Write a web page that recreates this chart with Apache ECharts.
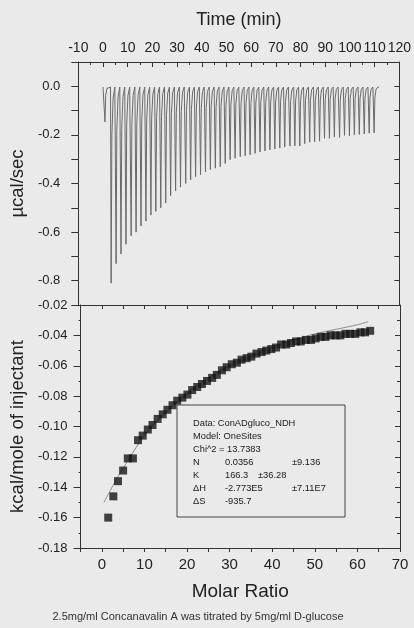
<!DOCTYPE html>
<html>
<head>
<meta charset="utf-8">
<script src="https://cdn.jsdelivr.net/npm/echarts@6/dist/echarts.min.js"></script>
<style>
  html, body { margin: 0; padding: 0; background: #eaeaea; }
  #chart { width: 414px; height: 628px; }
</style>
</head>
<body>
<div id="chart"></div>
<script>
// ---- Raw thermogram (upper panel) ----
// time of each injection peak (min) and its peak power (µcal/sec)
const injectionTimes = [0.8,
  3.3, 5.3, 7.3, 9.3, 11.4, 13.4, 15.4, 17.4, 19.4, 21.4, 23.4, 25.4, 27.4, 29.4, 31.4,
  33.5, 35.5, 37.5, 39.5, 41.5, 43.5, 45.5, 47.5, 49.5, 51.5, 53.5, 55.6, 57.6, 59.6,
  61.6, 63.6, 65.6, 67.6, 69.6, 71.6, 73.6, 75.7, 77.7, 79.7, 81.7, 83.7, 85.7, 87.7,
  89.7, 91.7, 93.7, 95.8, 97.8, 99.8, 101.8, 103.8, 105.8, 107.8, 109.8];
const peakPower = [-0.147,
  -0.81, -0.73, -0.69, -0.65, -0.615, -0.60, -0.575, -0.555, -0.53, -0.515, -0.50, -0.48,
  -0.45, -0.43, -0.415, -0.40, -0.385, -0.372, -0.363, -0.352, -0.343, -0.337, -0.331,
  -0.318, -0.302, -0.296, -0.290, -0.286, -0.282, -0.276, -0.27, -0.266, -0.261, -0.258,
  -0.254, -0.25, -0.246, -0.245, -0.246, -0.236, -0.230, -0.229, -0.226, -0.214, -0.214,
  -0.208, -0.211, -0.202, -0.204, -0.200, -0.198, -0.196, -0.193, -0.192];
const baseline = -0.003;
const traceStart = 0;
const traceEnd = 111.8;

// ---- Integrated heats (lower panel) ----
const molarRatio = [1.5, 2.7, 3.8, 5.0, 6.1, 7.3, 8.5, 9.6, 10.8, 11.9, 13.1, 14.3, 15.4,
  16.6, 17.7, 18.9, 20.1, 21.2, 22.4, 23.5, 24.7, 25.9, 27.0, 28.2, 29.3, 30.5, 31.7, 32.8,
  34.0, 35.1, 36.3, 37.5, 38.6, 39.8, 40.9, 42.1, 43.3, 44.4, 45.6, 46.7, 47.9, 49.1, 50.2,
  51.4, 52.5, 53.7, 54.9, 56.0, 57.2, 58.3, 59.5, 60.7, 61.8, 63.0];
const heatPerMole = [-0.160, -0.146, -0.136, -0.129, -0.121, -0.121, -0.109, -0.106, -0.102,
  -0.099, -0.095, -0.092, -0.089, -0.086, -0.083, -0.081, -0.079, -0.076, -0.074, -0.072,
  -0.070, -0.068, -0.066, -0.063, -0.061, -0.059, -0.058, -0.056, -0.055, -0.054, -0.052,
  -0.051, -0.050, -0.049, -0.048, -0.046, -0.046, -0.045, -0.044, -0.044, -0.043, -0.043,
  -0.042, -0.041, -0.041, -0.040, -0.040, -0.040, -0.039, -0.039, -0.039, -0.038, -0.038,
  -0.037];

// one-site model fit
const fitRatio = [0.5, 2, 4, 6, 8, 10, 12, 15, 18, 21, 25, 30, 35, 40, 45, 50, 55, 60, 62.5];
const fitHeat = [-0.150, -0.142, -0.132, -0.123, -0.114, -0.106, -0.099, -0.091, -0.083,
  -0.076, -0.068, -0.060, -0.054, -0.048, -0.043, -0.039, -0.036, -0.033, -0.031];

// fit report lines: [label, value, error]
const fitReport = [
  ['Data: ConADgluco_NDH', '', ''],
  ['Model: OneSites', '', ''],
  ['Chi^2 = 13.7383', '', ''],
  ['N', '0.0356', '\u00b19.136'],
  ['K', '166.3', '\u00b136.28'],
  ['\u0394H', '-2.773E5', '\u00b17.11E7'],
  ['\u0394S', '-935.7', '']
];

const caption = '2.5mg/ml Concanavalin A was titrated by 5mg/ml D-glucose';

// ---- build the thermogram polyline from the peak list ----
const trace = [[traceStart, baseline]];
injectionTimes.forEach((t, i) => {
  const p = peakPower[i];
  trace.push([t - 0.25, baseline], [t, p], [t + 0.3, p * 0.25], [t + 0.8, p * 0.06], [t + 1.5, baseline]);
});
trace.push([traceEnd, baseline]);

const heats = molarRatio.map((x, i) => [x, heatPerMole[i]]);
const fit = fitRatio.map((x, i) => [x, fitHeat[i]]);

const FONT = '"Liberation Sans", Arial, sans-serif';
const INK = '#222';
const FRAME = '#333';

const frameLine = { show: true, onZero: false, lineStyle: { color: FRAME, width: 1 } };

const chart = echarts.init(document.getElementById('chart'), null, { renderer: 'canvas' });

const boxX = 177, boxY = 405, rowH = 13;
const reportText = [];
fitReport.forEach((row, i) => {
  const y = boxY + 18 + i * rowH;
  const cols = [[row[0], 193], [row[1], 225], [row[2], i === 4 ? 258 : 292]];
  cols.forEach(([txt, x]) => {
    if (!txt) return;
    reportText.push({
      type: 'text', x: x, y: y, z: 100,
      style: { text: txt, fill: '#1a1a1a', font: '9.3px ' + FONT, verticalAlign: 'middle' }
    });
  });
});

chart.setOption({
  backgroundColor: '#eaeaea',
  animation: false,
  textStyle: { fontFamily: FONT },
  grid: [
    { left: 77, right: 14, top: 62, height: 243 },
    { left: 77, right: 14, top: 305, height: 243 }
  ],
  xAxis: [
    {
      gridIndex: 0, type: 'value', position: 'top', min: -10, max: 120, interval: 10,
      name: 'Time (min)', nameLocation: 'middle', nameGap: 33,
      nameTextStyle: { fontSize: 18, color: INK, fontFamily: FONT },
      axisLine: frameLine,
      axisTick: { inside: true, length: 5, lineStyle: { color: FRAME } },
      minorTick: { show: true, splitNumber: 2, length: 3, lineStyle: { color: FRAME } },
      axisLabel: { margin: 7, fontSize: 14, color: INK, fontFamily: FONT, showMinLabel: true, showMaxLabel: true },
      splitLine: { show: false }
    },
    {
      gridIndex: 1, type: 'value', position: 'bottom', min: -5, max: 70, interval: 5,
      name: 'Molar Ratio', nameLocation: 'middle', nameGap: 34,
      nameTextStyle: { fontSize: 19, color: INK, fontFamily: FONT },
      axisLine: frameLine,
      axisTick: { inside: false, length: 4, lineStyle: { color: FRAME } },
      axisLabel: {
        margin: 9, fontSize: 15, color: INK, fontFamily: FONT, showMaxLabel: true,
        formatter: v => (Math.round(v) % 10 === 0 ? String(Math.round(v)) : '')
      },
      splitLine: { show: false }
    },
    {
      gridIndex: 1, type: 'value', position: 'top', min: -5, max: 70, interval: 5,
      axisLine: frameLine,
      axisTick: { inside: true, length: 4, lineStyle: { color: FRAME } },
      axisLabel: { show: false },
      splitLine: { show: false }
    }
  ],
  yAxis: [
    {
      gridIndex: 0, type: 'value', position: 'left', min: -0.9, max: 0.1, interval: 0.1,
      name: '\u00b5cal/sec', nameLocation: 'middle', nameGap: 48,
      nameTextStyle: { fontSize: 18.5, color: INK, fontFamily: FONT },
      axisLine: frameLine,
      axisTick: { inside: false, length: 7, lineStyle: { color: FRAME } },
      axisLabel: {
        margin: 18, fontSize: 13, color: INK, fontFamily: FONT,
        formatter: v => {
          const k = Math.round(v * 10);
          if (k % 2 !== 0) return '';
          return k === 0 ? '0.0' : (k / 10).toFixed(1);
        }
      },
      splitLine: { show: false }
    },
    {
      gridIndex: 0, type: 'value', position: 'right', min: -0.9, max: 0.1, interval: 0.1,
      axisLine: frameLine,
      axisTick: { inside: true, length: 5, lineStyle: { color: FRAME } },
      axisLabel: { show: false },
      splitLine: { show: false }
    },
    {
      gridIndex: 1, type: 'value', position: 'left', min: -0.18, max: -0.02, interval: 0.02,
      name: 'kcal/mole of injectant', nameLocation: 'middle', nameGap: 52,
      nameTextStyle: { fontSize: 18.5, color: INK, fontFamily: FONT },
      axisLine: frameLine,
      axisTick: { inside: false, length: 7, lineStyle: { color: FRAME } },
      minorTick: { show: true, splitNumber: 2, length: 2, lineStyle: { color: FRAME } },
      axisLabel: {
        margin: 13, fontSize: 13, color: INK, fontFamily: FONT,
        formatter: v => v.toFixed(2)
      },
      splitLine: { show: false }
    },
    {
      gridIndex: 1, type: 'value', position: 'right', min: -0.18, max: -0.02, interval: 0.02,
      axisLine: frameLine,
      axisTick: { inside: true, length: 5, lineStyle: { color: FRAME } },
      minorTick: { show: true, splitNumber: 2, length: 3, lineStyle: { color: FRAME } },
      axisLabel: { show: false },
      splitLine: { show: false }
    }
  ],
  series: [
    {
      type: 'line', xAxisIndex: 0, yAxisIndex: 0, data: trace,
      showSymbol: false, symbol: 'none',
      lineStyle: { color: '#6a6a6a', width: 1 }, z: 2
    },
    {
      type: 'line', xAxisIndex: 1, yAxisIndex: 2, data: fit,
      smooth: 0.3, showSymbol: false, symbol: 'none',
      lineStyle: { color: '#8c8c8c', width: 1 }, z: 2
    },
    {
      type: 'scatter', xAxisIndex: 1, yAxisIndex: 2, data: heats,
      symbol: 'rect', symbolSize: 8,
      itemStyle: { color: '#151515' }, z: 3
    }
  ],
  graphic: [
    {
      type: 'rect', z: 99,
      shape: { x: boxX, y: boxY, width: 168, height: 112 },
      style: { fill: 'none', stroke: '#444', lineWidth: 1 }
    },
    ...reportText,
    {
      type: 'text', x: 198, y: 617, z: 100,
      style: { text: caption, fill: '#333', font: '11px ' + FONT, align: 'center', verticalAlign: 'middle' }
    }
  ]
});
</script>
</body>
</html>
